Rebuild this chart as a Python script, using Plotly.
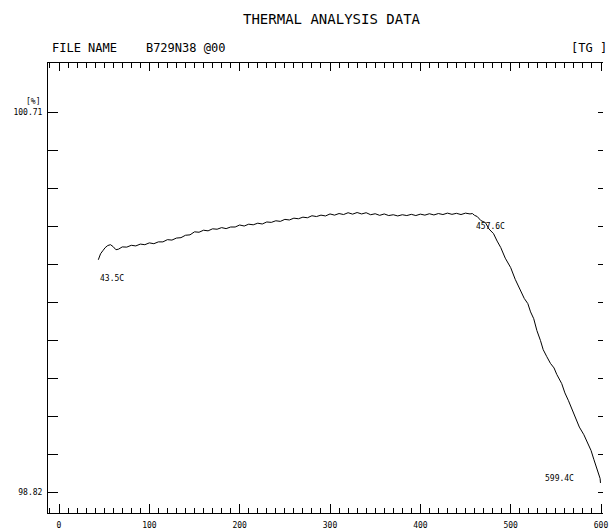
import plotly.graph_objects as go

# ---- data ----
temp_c = [43.5, 44.5, 46.0, 48.5, 51.0, 54.0, 57.0, 60.0, 63.0, 66.0,
          70, 75, 80, 85, 90, 95, 100, 105, 110, 115, 120, 125, 130, 135, 140, 145,
          150, 155, 160, 165, 170, 175, 180, 185, 190, 195, 200, 205, 210, 215, 220, 225,
          230, 235, 240, 245, 250, 255, 260, 265, 270, 275, 280, 285, 290, 295, 300, 305,
          310, 315, 320, 325, 330, 335, 340, 345, 350, 355, 360, 365, 370, 375, 380, 385,
          390, 395, 400, 405, 410, 415, 420, 425, 430, 435, 440, 445, 450, 455,
          457.6, 460.0, 463.0, 467.0, 472.0, 476.0, 481.0, 485.0, 489.0,
          494.0, 500.0, 505.0, 511.0, 515.0, 519.0, 522.0, 525.5, 529.0, 533.0, 536.0, 540.0,
          544.0, 548.0, 551.0, 556.5, 560.0, 564.0, 568.0, 572.0, 576.0, 581.0, 585.0, 589.0,
          592.0, 595.5, 597.5, 599.0, 599.4]
mass_pct = [99.975, 99.990, 100.005, 100.020, 100.035, 100.046, 100.050, 100.040, 100.025,
            100.028,
            100.039, 100.038, 100.047, 100.044, 100.053, 100.050, 100.059, 100.055, 100.064,
            100.064, 100.075, 100.073, 100.083, 100.085, 100.097, 100.099, 100.114, 100.112,
            100.122, 100.119, 100.129, 100.127, 100.135, 100.130, 100.138, 100.138, 100.148,
            100.143, 100.152, 100.149, 100.157, 100.153, 100.163, 100.161, 100.169, 100.166,
            100.176, 100.173, 100.182, 100.179, 100.187, 100.184, 100.194, 100.190, 100.197,
            100.193, 100.203, 100.197, 100.205, 100.200, 100.209, 100.202, 100.210, 100.203,
            100.209, 100.199, 100.204, 100.196, 100.203, 100.195, 100.199, 100.193, 100.199,
            100.195, 100.201, 100.195, 100.202, 100.197, 100.204, 100.198, 100.205, 100.200,
            100.207, 100.201, 100.206, 100.200, 100.207, 100.203,
            100.205, 100.196, 100.190, 100.170, 100.160, 100.128, 100.105, 100.068, 100.036,
            99.983, 99.936, 99.878, 99.822, 99.783, 99.757, 99.716, 99.682, 99.623, 99.573,
            99.528, 99.493, 99.460, 99.437, 99.405, 99.359, 99.313, 99.274, 99.228, 99.190,
            99.143, 99.105, 99.063, 99.026, 98.983, 98.936, 98.903, 98.887, 98.865]

x_tick_vals = [0, 100, 200, 300, 400, 500, 600]
x_tick_text = ["0", "100", "200", "300", "400", "500", "600"]
y_min_label, y_max_label = 98.82, 100.71
n_y_ticks = 11
y_tick_vals = [round(y_min_label + i * (y_max_label - y_min_label) / (n_y_ticks - 1), 4)
               for i in range(n_y_ticks)]
y_tick_text = ["98.82"] + [""] * (n_y_ticks - 2) + ["100.71"]

point_labels = ["43.5C", "457.6C", "599.4C"]
point_temps = [43.5, 457.6, 599.4]

title_text = "THERMAL ANALYSIS DATA"
file_text = "FILE NAME    B729N38 @00"
mode_text = "[TG ]"

FONT = "DejaVu Sans Mono"
x_range = [-12.2, 602.2]
y_range = [98.7156, 100.9537]

fig = go.Figure()
fig.add_trace(go.Scatter(x=temp_c, y=mass_pct, mode="lines",
                         line=dict(color="black", width=1), hoverinfo="skip"))
# helper trace so the top/right rulers are drawn
fig.add_trace(go.Scatter(x=[temp_c[0]], y=[mass_pct[0]], mode="markers",
                         marker=dict(opacity=0), xaxis="x2", yaxis="y2", hoverinfo="skip"))

tick_font = dict(family=FONT, size=8, color="black")

fig.update_layout(
    width=609, height=531,
    margin=dict(l=48, r=6, t=63, b=18, autoexpand=False),
    paper_bgcolor="white", plot_bgcolor="white",
    showlegend=False,
    xaxis=dict(range=x_range, tickmode="array", tickvals=x_tick_vals, ticktext=x_tick_text,
               ticks="inside", ticklen=9, tickwidth=1, tickcolor="black",
               showline=True, linecolor="black", linewidth=1, automargin=False,
               showgrid=False, zeroline=False, tickfont=tick_font, ticklabelstandoff=4,
               minor=dict(tickmode="linear", tick0=0, dtick=10, ticks="inside", ticklen=5,
                          tickcolor="black", tickwidth=1, showgrid=False)),
    xaxis2=dict(range=x_range, overlaying="x", side="top", tickmode="linear", tick0=0,
                dtick=100, ticks="inside", ticklen=8, tickwidth=1, tickcolor="black",
                showline=True, linecolor="black", linewidth=1, showticklabels=False,
                showgrid=False, zeroline=False, automargin=False,
                minor=dict(tickmode="linear", tick0=0, dtick=10, ticks="inside", ticklen=5,
                           tickcolor="black", tickwidth=1, showgrid=False)),
    yaxis=dict(range=y_range, tickmode="array", tickvals=y_tick_vals, ticktext=y_tick_text,
               ticks="inside", ticklen=10, tickwidth=1, tickcolor="black",
               showline=True, linecolor="black", linewidth=1, automargin=False,
               showgrid=False, zeroline=False, tickfont=tick_font, ticklabelstandoff=3),
    yaxis2=dict(range=y_range, overlaying="y", side="right", tickmode="array",
                tickvals=y_tick_vals, ticks="inside", ticklen=5, tickwidth=1,
                tickcolor="black", showline=False, showticklabels=False, automargin=False,
                showgrid=False, zeroline=False),
)

annos = [
    dict(text=title_text, xref="paper", yref="paper", x=0.512, y=1.0 + 44 / 450,
         xanchor="center", yanchor="middle", showarrow=False,
         font=dict(family=FONT, size=14, color="black")),
    dict(text=file_text.replace(" ", "&nbsp;"), xref="paper", yref="paper", x=0.003,
         y=1.0 + 15 / 450, xanchor="left", yanchor="middle", showarrow=False,
         font=dict(family=FONT, size=12, color="black")),
    dict(text=mode_text.replace(" ", "&nbsp;"), xref="paper", yref="paper", x=1.0,
         y=1.0 + 15 / 450, xanchor="right", yanchor="middle", xshift=6, showarrow=False,
         font=dict(family=FONT, size=12, color="black")),
    dict(text="[%]", xref="paper", yref="y", x=0, y=y_max_label, xanchor="right",
         yanchor="middle", xshift=-6, yshift=11, showarrow=False,
         font=dict(family=FONT, size=8, color="black")),
]
# point labels placed relative to their data points
offsets = [dict(xanchor="left", xshift=0, yshift=-19),
           dict(xanchor="left", xshift=2, yshift=-13),
           dict(xanchor="right", xshift=-24, yshift=4)]
for lab, t, off in zip(point_labels, point_temps, offsets):
    idx = temp_c.index(t)
    annos.append(dict(text=lab, x=t, y=mass_pct[idx], xref="x", yref="y",
                      yanchor="middle", showarrow=False,
                      font=dict(family=FONT, size=8, color="black"), **off))
fig.update_layout(annotations=annos)

fig.write_html("out.html")
